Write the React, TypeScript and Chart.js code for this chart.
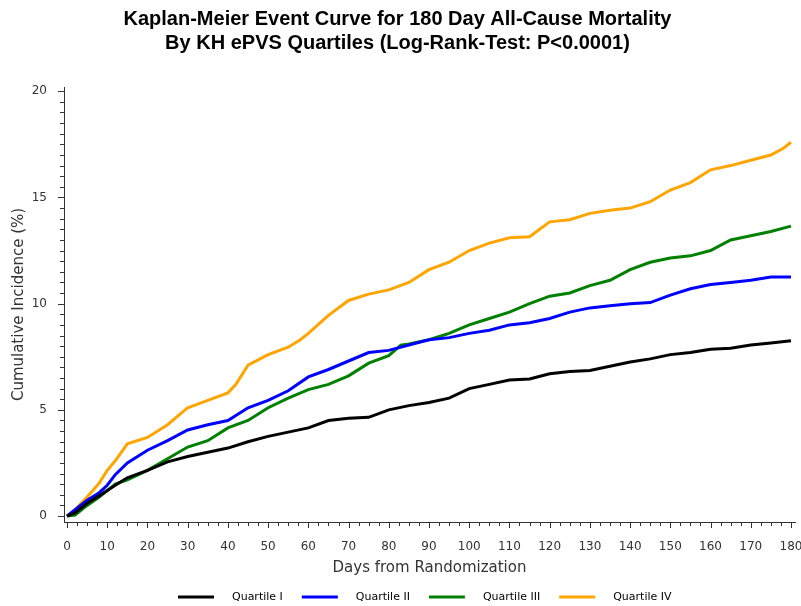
import { useEffect, useRef } from "react";
import { Chart, registerables } from "chart.js";

Chart.register(...registerables);

// ---- Data ----
const q1Days = [0, 2, 5, 8, 10, 12, 15, 20, 25, 30, 35, 40, 45, 50, 55, 60, 65, 70, 75, 80, 85, 90, 95, 100, 105, 110, 115, 120, 125, 130, 135, 140, 145, 150, 155, 160, 165, 170, 175, 180];
const q1Vals = [0, 0.15, 0.6, 0.95, 1.2, 1.45, 1.8, 2.15, 2.55, 2.8, 3.0, 3.2, 3.5, 3.75, 3.95, 4.15, 4.5, 4.6, 4.65, 5.0, 5.2, 5.35, 5.55, 6.0, 6.2, 6.4, 6.45, 6.7, 6.8, 6.85, 7.05, 7.25, 7.4, 7.6, 7.7, 7.85, 7.9, 8.05, 8.15, 8.25];

const q2Days = [0, 2, 5, 8, 10, 12, 15, 20, 25, 30, 35, 40, 45, 50, 55, 60, 65, 70, 75, 80, 85, 90, 95, 100, 105, 110, 115, 120, 125, 130, 135, 140, 145, 150, 155, 160, 165, 170, 175, 180];
const q2Vals = [0, 0.3, 0.75, 1.1, 1.45, 1.95, 2.5, 3.1, 3.55, 4.05, 4.3, 4.5, 5.1, 5.45, 5.9, 6.55, 6.9, 7.3, 7.7, 7.8, 8.05, 8.3, 8.4, 8.6, 8.75, 9.0, 9.1, 9.3, 9.6, 9.8, 9.9, 10.0, 10.05, 10.4, 10.7, 10.9, 11.0, 11.1, 11.25, 11.25];

const q3Days = [0, 2, 5, 8, 10, 12, 15, 20, 25, 30, 35, 40, 45, 50, 55, 60, 65, 70, 75, 80, 83, 85, 90, 95, 100, 105, 110, 115, 120, 125, 130, 135, 140, 145, 150, 155, 160, 165, 170, 175, 180];
const q3Vals = [0, 0.05, 0.5, 0.9, 1.2, 1.5, 1.7, 2.15, 2.7, 3.25, 3.55, 4.15, 4.5, 5.1, 5.55, 5.95, 6.2, 6.6, 7.2, 7.55, 8.05, 8.1, 8.3, 8.6, 9.0, 9.3, 9.6, 10.0, 10.35, 10.5, 10.85, 11.1, 11.6, 11.95, 12.15, 12.25, 12.5, 13.0, 13.2, 13.4, 13.65];

const q4Days = [0, 2, 5, 8, 10, 12, 15, 20, 25, 30, 35, 40, 42, 45, 50, 55, 58, 60, 65, 70, 75, 80, 85, 90, 95, 100, 105, 110, 115, 120, 125, 130, 135, 140, 145, 150, 155, 160, 165, 170, 175, 178, 180];
const q4Vals = [0, 0.3, 0.9, 1.55, 2.15, 2.6, 3.4, 3.7, 4.3, 5.1, 5.45, 5.8, 6.2, 7.1, 7.6, 7.95, 8.3, 8.6, 9.45, 10.15, 10.45, 10.65, 11.0, 11.6, 11.95, 12.5, 12.85, 13.1, 13.15, 13.85, 13.95, 14.25, 14.4, 14.5, 14.8, 15.35, 15.7, 16.3, 16.5, 16.75, 17.0, 17.3, 17.6];

const seriesLabels = ["Quartile I", "Quartile II", "Quartile III", "Quartile IV"];
const seriesColors = ["#000000", "#0000FF", "#008000", "#FFA500"];

const xMajorTicks = [0, 10, 20, 30, 40, 50, 60, 70, 80, 90, 100, 110, 120, 130, 140, 150, 160, 170, 180];
const yMajorTicks = [0, 5, 10, 15, 20];
const xMinorStep = 2.5;
const yMinorStep = 0.5;

const titleText = "Kaplan-Meier Event Curve for 180 Day All-Cause Mortality";
const subtitleText = "By KH ePVS Quartiles (Log-Rank-Test: P<0.0001)";
const xTitle = "Days from Randomization";
const yTitle = "Cumulative Incidence (%)";

const FONT = "'DejaVu Sans', sans-serif";
const TITLE_FONT = "'Liberation Sans', Arial, sans-serif";
const AXIS_COLOR = "#333333";

const toPoints = (days: number[], vals: number[]) => days.map((d, i) => ({ x: d, y: vals[i] }));

const minorTicksPlugin = {
  id: "minorTicks",
  afterDraw(chart: any) {
    const { ctx, scales } = chart;
    const x = scales.x;
    const y = scales.y;
    ctx.save();
    ctx.strokeStyle = AXIS_COLOR;
    ctx.lineWidth = 1;
    const xMax = xMajorTicks[xMajorTicks.length - 1];
    const nX = Math.round(xMax / xMinorStep);
    for (let i = 0; i <= nX; i++) {
      const v = i * xMinorStep;
      const px = Math.round(x.getPixelForValue(v)) + 0.5;
      const major = Math.abs(v % 10) < 1e-6;
      const len = major ? 6 : 4;
      ctx.beginPath();
      ctx.moveTo(px, y.bottom);
      ctx.lineTo(px, y.bottom + len);
      ctx.stroke();
    }
    const yMax = yMajorTicks[yMajorTicks.length - 1];
    const nY = Math.round(yMax / yMinorStep);
    for (let i = 0; i <= nY; i++) {
      const v = i * yMinorStep;
      const py = Math.round(y.getPixelForValue(v)) + 0.5;
      const major = Math.abs(v % 5) < 1e-6;
      const len = major ? 6 : 4;
      ctx.beginPath();
      ctx.moveTo(x.left, py);
      ctx.lineTo(x.left - len, py);
      ctx.stroke();
    }
    ctx.restore();
  },
};

const legendPlugin = {
  id: "customLegend",
  afterDraw(chart: any) {
    const { ctx, chartArea } = chart;
    ctx.save();
    ctx.font = `11px ${FONT}`;
    const sw = 36;
    const gap1 = 18;
    const gap2 = 19;
    const items = chart.data.datasets.map((ds: any) => ({
      label: ds.label as string,
      color: ds.borderColor as string,
      w: ctx.measureText(ds.label).width,
    }));
    let total = 0;
    items.forEach((it: any, i: number) => {
      total += sw + gap1 + it.w + (i > 0 ? gap2 : 0);
    });
    const cx = (chartArea.left + chartArea.right) / 2 - 5;
    let xx = Math.round(cx - total / 2);
    const yy = 597;
    items.forEach((it: any) => {
      ctx.strokeStyle = it.color;
      ctx.lineWidth = 3;
      ctx.beginPath();
      ctx.moveTo(xx, yy);
      ctx.lineTo(xx + sw, yy);
      ctx.stroke();
      ctx.fillStyle = "#000000";
      ctx.textAlign = "left";
      ctx.textBaseline = "middle";
      ctx.fillText(it.label, xx + sw + gap1, yy);
      xx += sw + gap1 + it.w + gap2;
    });
    ctx.restore();
  },
};

export default function App() {
  const canvasRef = useRef<HTMLCanvasElement | null>(null);

  useEffect(() => {
    document.body.style.margin = "0";
    const canvas = canvasRef.current;
    if (!canvas) return;
    const allDays = [q1Days, q2Days, q3Days, q4Days];
    const allVals = [q1Vals, q2Vals, q3Vals, q4Vals];
    const chart = new Chart(canvas, {
      type: "line",
      data: {
        datasets: seriesLabels.map((label, i) => ({
          label,
          data: toPoints(allDays[i], allVals[i]),
          borderColor: seriesColors[i],
          backgroundColor: seriesColors[i],
          borderWidth: 3,
          pointRadius: 0,
          tension: 0,
          fill: false,
        })),
      },
      options: {
        responsive: false,
        animation: false,
        layout: { padding: { left: 0, right: 6, top: 0, bottom: 28 } },
        plugins: {
          legend: { display: false },
          tooltip: { enabled: false },
          title: {
            display: true,
            text: titleText,
            color: "#000000",
            font: { family: TITLE_FONT, size: 20, weight: "bold" },
            padding: { top: 7, bottom: 0 },
          },
          subtitle: {
            display: true,
            text: subtitleText,
            color: "#000000",
            font: { family: TITLE_FONT, size: 20, weight: "bold" },
            padding: { top: 0, bottom: 32 },
          },
        },
        scales: {
          x: {
            type: "linear",
            min: -0.75,
            max: 181,
            afterBuildTicks: (scale: any) => {
              scale.ticks = xMajorTicks.map((v) => ({ value: v }));
            },
            afterFit: (scale: any) => {
              scale.height = 56;
              scale.paddingLeft = 0;
              scale.paddingRight = 0;
            },
            grid: { display: false },
            border: { display: true, color: AXIS_COLOR, width: 1 },
            ticks: {
              color: AXIS_COLOR,
              font: { family: FONT, size: 12 },
              padding: 10,
              maxRotation: 0,
              autoSkip: false,
            },
            title: {
              display: true,
              text: xTitle,
              color: AXIS_COLOR,
              font: { family: FONT, size: 15 },
              padding: { top: 0, bottom: 1 },
            },
          },
          y: {
            type: "linear",
            min: -0.28,
            max: 20.2,
            afterBuildTicks: (scale: any) => {
              scale.ticks = yMajorTicks.map((v) => ({ value: v }));
            },
            afterFit: (scale: any) => {
              scale.width = 64;
              scale.paddingTop = 0;
              scale.paddingBottom = 0;
            },
            grid: { display: false },
            border: { display: true, color: AXIS_COLOR, width: 1 },
            ticks: {
              color: AXIS_COLOR,
              font: { family: FONT, size: 12 },
              padding: 9,
              autoSkip: false,
            },
            title: {
              display: true,
              text: yTitle,
              color: AXIS_COLOR,
              font: { family: FONT, size: 15 },
              padding: { top: 10, bottom: 0 },
            },
          },
        },
      },
      plugins: [minorTicksPlugin, legendPlugin],
    });
    return () => chart.destroy();
  }, []);

  return (
    <div style={{ position: "absolute", left: 0, top: 0, width: 801, height: 606 }}>
      <canvas ref={canvasRef} width={801} height={606} style={{ display: "block" }} />
    </div>
  );
}
